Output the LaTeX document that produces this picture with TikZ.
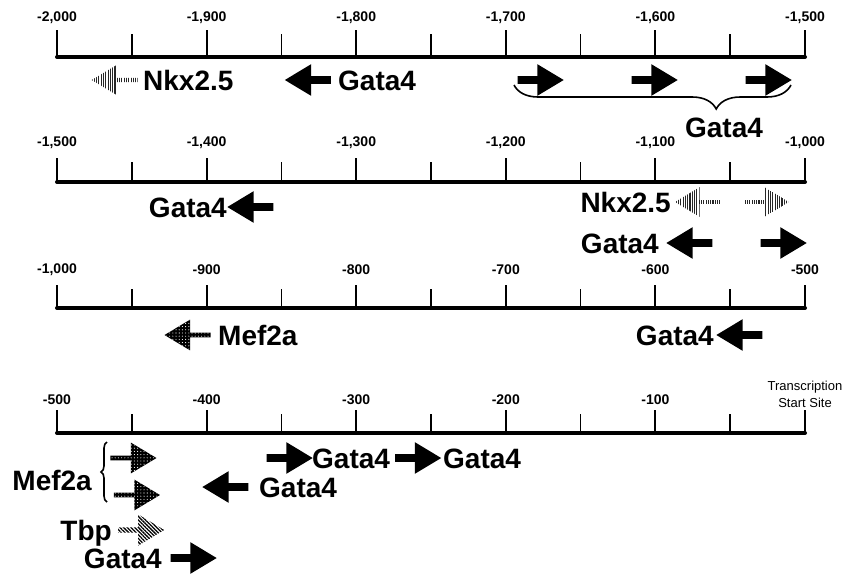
\documentclass[tikz,border=0pt]{standalone}
\usepackage{fontspec}
\setmainfont{Liberation Sans}
\usetikzlibrary{shapes.arrows,patterns.meta,decorations.pathreplacing}

\tikzset{
  x=1pt, y=-1pt,
  axisline/.style={line width=4pt, line cap=round},
  majortick/.style={line width=2pt},
  minortick/.style={line width=1.6pt},
  ticklabel/.style={font=\fontsize{14}{14}\selectfont\bfseries, inner sep=0pt},
  site/.style={font=\fontsize{28}{28}\selectfont\bfseries, inner sep=0pt,
               text height=20pt, text depth=0pt},
  arrowbase/.style={single arrow, draw=none, minimum height=46pt,
                    single arrow head indent=0pt, single arrow tip angle=62},
  gata/.style={arrowbase, fill=black, inner sep=3.6pt,
               single arrow head extend=12pt},
  nkx/.style={arrowbase, inner sep=1.6pt, single arrow head extend=13pt,
              pattern={Lines[angle=90,distance=2.3pt,line width=1.1pt]},
              pattern color=black!85},
  mef/.style={arrowbase, inner sep=2.2pt, single arrow head extend=13pt,
              preaction={fill=black},
              pattern={Dots[radius=0.55pt,distance=3.2pt]},
              pattern color=white},
  tbp/.style={arrowbase, inner sep=2pt, single arrow head extend=13pt,
              pattern={Lines[angle=-45,distance=2.6pt,line width=1.3pt]},
              pattern color=black},
  leftward/.style={shape border rotate=180},
}

\begin{document}
\begin{tikzpicture}
\useasboundingbox (0,0) rectangle (848,573);

% ruler lines with major and minor ticks (line heights 57, 182, 308, 433)
\foreach \L/\h in {57/27, 182/24, 308/23, 433/23}{
  \draw[axisline] (57,\L) -- (805,\L);
  \foreach \k in {0,...,5}
    \draw[majortick] ({57+149.6*\k},\L) -- ({57+149.6*\k},\L-\h);
  \foreach \k in {0,...,4}
    \draw[minortick] ({131.8+149.6*\k},\L) -- ({131.8+149.6*\k},\L-\h+4);
}
% position labels above each ruler
\foreach \v [count=\k from 0] in {{-2,000},{-1,900},{-1,800},{-1,700},{-1,600},{-1,500}}
  \node[ticklabel] at ({57+149.6*\k},18) {\v};
\foreach \v [count=\k from 0] in {{-1,500},{-1,400},{-1,300},{-1,200},{-1,100},{-1,000}}
  \node[ticklabel] at ({57+149.6*\k},143) {\v};
\foreach \v [count=\k from 0] in {{-1,000},{-900},{-800},{-700},{-600},{-500}}
  \node[ticklabel] at ({57+149.6*\k},270) {\v};
\foreach \v [count=\k from 0] in {{-500},{-400},{-300},{-200},{-100}}
  \node[ticklabel] at ({57+149.6*\k},400) {\v};
\node[font=\fontsize{13}{17}\selectfont, align=center, inner sep=0pt]
  (tss) at (805,394) {Transcription\\Start Site};

% ---- -2,000 to -1,500
\node[nkx, leftward] (n1) at (116.5,80) {};
\node[site, anchor=west] (n1t) at (143,80) {Nkx2.5};
\node[gata, leftward] (g1) at (311,80) {};
\node[site, anchor=west] (g1t) at (338,80) {Gata4};
\node[gata] (g2) at (537.5,80) {};
\node[gata] (g3) at (651.5,80) {};
\node[gata] (g4) at (765.5,80) {};
\draw[line width=1.6pt, decorate,
      decoration={brace, amplitude=24pt, aspect=0.27}]
  (791,85) -- (514,85);
\node[site] (g234t) at (724,127) {Gata4};

% ---- -1,500 to -1,000
\node[gata, leftward] (g5) at (253.5,207) {};
\node[site, anchor=east] (g5t) at (227,207) {Gata4};
\node[nkx, leftward] (n2) at (699.5,202) {};
\node[nkx] (n3) at (764.5,202) {};
\node[site, anchor=east] (n23t) at (671,202) {Nkx2.5};
\node[gata, leftward] (g6) at (692.5,243) {};
\node[gata] (g7) at (780.5,243) {};
\node[site, anchor=east] (g67t) at (659,243) {Gata4};

% ---- -1,000 to -500
\node[mef, leftward] (m1) at (189.5,335) {};
\node[site, anchor=west] (m1t) at (218,335) {Mef2a};
\node[gata, leftward] (g8) at (742.5,335) {};
\node[site, anchor=east] (g8t) at (714,335) {Gata4};

% ---- -500 to the start site
\node[mef] (m2) at (131.5,458) {};
\node[mef] (m3) at (135,495) {};
\draw[line width=1.6pt, decorate, decoration={brace, amplitude=6pt}]
  (107,502) -- (107,442);
\node[site, anchor=east] (m23t) at (92,480) {Mef2a};
\node[tbp] (t1) at (139,530) {};
\node[site, anchor=east] (t1t) at (112,530) {Tbp};
\node[gata] (g9) at (190.5,558) {};
\node[site, anchor=east] (g9t) at (162,558) {Gata4};
\node[gata, leftward] (g10) at (228.5,487) {};
\node[site, anchor=west] (g10t) at (259,487) {Gata4};
\node[gata] (g11) at (286.5,458) {};
\node[site, anchor=west] (g11t) at (312,458) {Gata4};
\node[gata] (g12) at (415,458) {};
\node[site, anchor=west] (g12t) at (443,458) {Gata4};
\end{tikzpicture}
\end{document}
